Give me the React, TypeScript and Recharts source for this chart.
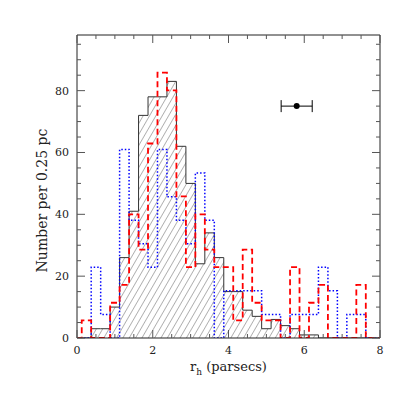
import React from 'react';
import { ComposedChart, Area, Line, Scatter, ErrorBar, XAxis, YAxis, Label } from 'recharts';

// bins are 0.25 pc wide, centred on 0.25, 0.5, ... 8.0
const binCenters = [
  0.25, 0.5, 0.75, 1.0, 1.25, 1.5, 1.75, 2.0, 2.25, 2.5, 2.75, 3.0, 3.25, 3.5, 3.75, 4.0,
  4.25, 4.5, 4.75, 5.0, 5.25, 5.5, 5.75, 6.0, 6.25, 6.5, 6.75, 7.0, 7.25, 7.5, 7.75, 8.0
];
// hatched (black) sample
const blackCounts = [
  0, 3, 3, 10, 26, 41, 72, 78, 78, 83, 62, 50, 24, 34, 26, 15,
  15, 9, 7, 3, 6, 4, 3, 1, 1, 0, 0, 0, 0, 0, 0, 0
];
// dashed (red) sample, scaled
const redCounts = [
  5.7, 0, 0, 11.4, 17.2, 40, 28.6, 62.9, 85.8, 80.1, 45.8, 22.9, 40, 28.6, 22.9, 22.9,
  5.7, 28.6, 11.4, 5.7, 5.7, 0, 22.9, 0, 11.4, 17.2, 0, 0, 0, 17.2, 0, 0
];
// dotted (blue) sample, scaled
const blueCounts = [
  0, 22.9, 7.6, 0, 61, 38.1, 30.5, 22.9, 61, 45.7, 38.1, 30.5, 53.4, 38.1, 0, 15.3,
  15.3, 15.3, 15.3, 7.6, 7.6, 0, 7.6, 7.6, 7.6, 22.9, 15.3, 0, 7.6, 7.6, 0, 0
];
// typical error bar
const errPoint = [{ x: 5.8, y: 75, err: 0.41 }];

const xTicks = [0, 0.5, 1, 1.5, 2, 2.5, 3, 3.5, 4, 4.5, 5, 5.5, 6, 6.5, 7, 7.5, 8];
const yTicks = [0, 5, 10, 15, 20, 25, 30, 35, 40, 45, 50, 55, 60, 65, 70, 75, 80, 85, 90, 95];

const HALF_BIN = 0.125;
const data = [
  { x: 0, black: 0, red: 0, blue: 0 },
  ...binCenters.map((c, i) => ({
    x: c - HALF_BIN,
    black: blackCounts[i],
    red: redCounts[i],
    blue: blueCounts[i]
  })),
  { x: 8, black: 0, red: 0, blue: 0 }
];

const FONT = 'DejaVu Serif';
const INK = '#222';
const TICK = '#555';

function BottomTick(props: any) {
  const { x, y, payload } = props;
  const major = payload.value % 2 === 0;
  return (
    <g>
      <line x1={x} x2={x} y1={y} y2={y - (major ? 8 : 4)} stroke={TICK} />
      {major && (
        <text x={x} y={y + 16} textAnchor="middle" fontFamily={FONT} fontSize={11} fill={INK}>
          {payload.value}
        </text>
      )}
    </g>
  );
}

function TopTick(props: any) {
  const { x, y, payload } = props;
  const major = payload.value % 2 === 0;
  return <line x1={x} x2={x} y1={y} y2={y + (major ? 8 : 4)} stroke={TICK} />;
}

function LeftTick(props: any) {
  const { x, y, payload } = props;
  const major = payload.value % 20 === 0;
  return (
    <g>
      <line x1={x} x2={x + (major ? 8 : 4)} y1={y} y2={y} stroke={TICK} />
      {major && (
        <text x={x - 8} y={y + 4} textAnchor="end" fontFamily={FONT} fontSize={11} fill={INK}>
          {payload.value}
        </text>
      )}
    </g>
  );
}

function RightTick(props: any) {
  const { x, y, payload } = props;
  const major = payload.value % 20 === 0;
  return <line x1={x} x2={x - (major ? 8 : 4)} y1={y} y2={y} stroke={TICK} />;
}

function XTitle(props: any) {
  const { x, y, width } = props.viewBox;
  return (
    <text x={x + width / 2} y={y + 33} textAnchor="middle" fontFamily={FONT} fontSize={13} fill={INK}>
      r<tspan fontSize={9} dy={4}>h</tspan>
      <tspan dy={-4}> (parsecs)</tspan>
    </text>
  );
}

function YTitle(props: any) {
  const { x, y, width, height } = props.viewBox;
  const cx = x + width - 30;
  const cy = y + height / 2 + 14;
  return (
    <text
      x={cx}
      y={cy}
      transform={`rotate(-90 ${cx} ${cy})`}
      textAnchor="middle"
      fontFamily={FONT}
      fontSize={14}
      fill={INK}
    >
      Number per 0.25 pc
    </text>
  );
}

export default function App() {
  return (
    <ComposedChart
      width={400}
      height={400}
      data={data}
      margin={{ top: 26, right: 27, bottom: 0, left: 0 }}
    >
      <defs>
        <pattern id="hatch" width="5.5" height="10" patternUnits="userSpaceOnUse" patternTransform="rotate(30)">
          <line x1="0" y1="0" x2="0" y2="10" stroke="#555" strokeWidth={0.9} />
        </pattern>
      </defs>
      <XAxis
        dataKey="x"
        type="number"
        domain={[0, 8]}
        allowDataOverflow
        ticks={xTicks}
        interval={0}
        height={70}
        tickSize={0}
        tickMargin={0}
        tickLine={false}
        axisLine={{ stroke: INK }}
        tick={<BottomTick />}
      >
        <Label content={XTitle} />
      </XAxis>
      <XAxis
        xAxisId="top"
        orientation="top"
        dataKey="x"
        type="number"
        domain={[0, 8]}
        allowDataOverflow
        ticks={xTicks}
        interval={0}
        height={1}
        tickSize={0}
        tickMargin={0}
        tickLine={false}
        axisLine={{ stroke: INK }}
        tick={<TopTick />}
      />
      <YAxis
        type="number"
        domain={[0, 98]}
        allowDataOverflow
        ticks={yTicks}
        interval={0}
        width={69}
        tickSize={0}
        tickMargin={0}
        tickLine={false}
        axisLine={{ stroke: INK }}
        tick={<LeftTick />}
      >
        <Label content={YTitle} />
      </YAxis>
      <YAxis
        yAxisId="right"
        orientation="right"
        type="number"
        domain={[0, 98]}
        allowDataOverflow
        ticks={yTicks}
        interval={0}
        width={1}
        tickSize={0}
        tickMargin={0}
        tickLine={false}
        axisLine={{ stroke: INK }}
        tick={<RightTick />}
      />
      <Area
        type="stepAfter"
        dataKey="black"
        stroke="#333"
        strokeWidth={1}
        fill="url(#hatch)"
        fillOpacity={1}
        isAnimationActive={false}
      />
      {/* invisible copy tied to the top/right frame axes so they get drawn */}
      <Line
        xAxisId="top"
        yAxisId="right"
        dataKey="black"
        stroke="none"
        dot={false}
        legendType="none"
        isAnimationActive={false}
      />
      <Line
        type="stepAfter"
        dataKey="blue"
        stroke="#0000ff"
        strokeWidth={1.5}
        strokeDasharray="1.5 2"
        dot={false}
        isAnimationActive={false}
      />
      <Line
        type="stepAfter"
        dataKey="red"
        stroke="#ff0000"
        strokeWidth={1.8}
        strokeDasharray="6 3.5"
        dot={false}
        isAnimationActive={false}
      />
      <Scatter data={errPoint} dataKey="y" fill="#000" isAnimationActive={false}
        shape={(p: any) => <circle cx={p.cx} cy={p.cy} r={3} fill="#000" />}>
        <ErrorBar dataKey="err" direction="x" width={6} stroke="#000" strokeWidth={1} />
      </Scatter>
    </ComposedChart>
  );
}
